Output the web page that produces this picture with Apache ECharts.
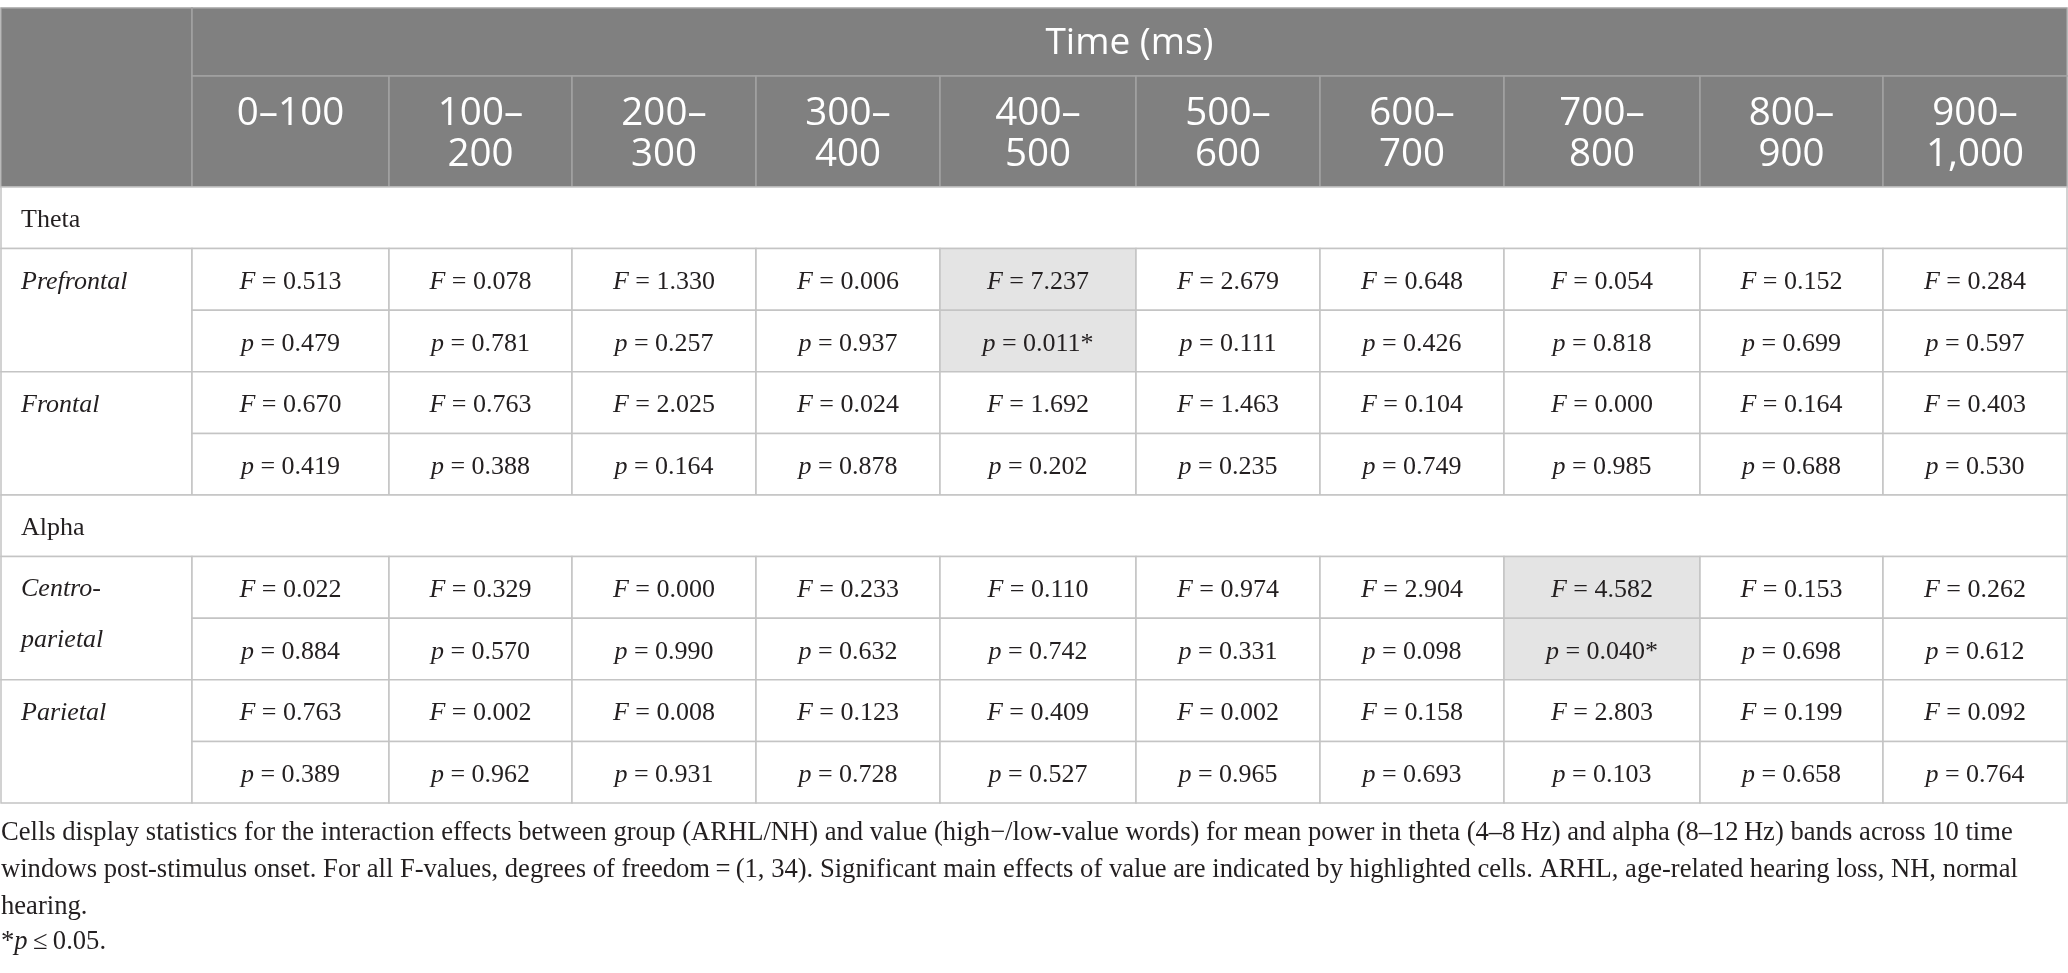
<!DOCTYPE html>
<html>
<head>
<meta charset="utf-8">
<title>Interaction effects table</title>
<script src="https://cdn.jsdelivr.net/npm/echarts@6/dist/echarts.min.js"></script>
<style>
    html, body { margin: 0; padding: 0; background: #ffffff; }
    #main { width: 2068px; height: 973px; }
</style>
</head>
<body>
<div id="main"></div>
<script>
// 表格数据
var timeLabels = ['0–100', '100–\n200', '200–\n300', '300–\n400', '400–\n500',
    '500–\n600', '600–\n700', '700–\n800', '800–\n900', '900–\n1,000'];
var bands = ['Theta', 'Alpha'];
var regions = ['Prefrontal', 'Frontal', 'Centro-\nparietal', 'Parietal'];
var regionBand = [0, 0, 1, 1];

var prefrontalF = [0.513, 0.078, 1.330, 0.006, 7.237, 2.679, 0.648, 0.054, 0.152, 0.284];
var prefrontalP = [0.479, 0.781, 0.257, 0.937, 0.011, 0.111, 0.426, 0.818, 0.699, 0.597];
var frontalF = [0.670, 0.763, 2.025, 0.024, 1.692, 1.463, 0.104, 0.000, 0.164, 0.403];
var frontalP = [0.419, 0.388, 0.164, 0.878, 0.202, 0.235, 0.749, 0.985, 0.688, 0.530];
var centroF = [0.022, 0.329, 0.000, 0.233, 0.110, 0.974, 2.904, 4.582, 0.153, 0.262];
var centroP = [0.884, 0.570, 0.990, 0.632, 0.742, 0.331, 0.098, 0.040, 0.698, 0.612];
var parietalF = [0.763, 0.002, 0.008, 0.123, 0.409, 0.002, 0.158, 2.803, 0.199, 0.092];
var parietalP = [0.389, 0.962, 0.931, 0.728, 0.527, 0.965, 0.693, 0.103, 0.658, 0.764];

var fValues = [prefrontalF, frontalF, centroF, parietalF];
var pValues = [prefrontalP, frontalP, centroP, parietalP];
var alpha = 0.05;

// 版面：列宽、行高（表格单位）
var colWidths = [191, 197, 183, 184, 184, 196, 184, 184, 196, 183, 184];
var rowHeights = [68, 111, 61.6, 61.6, 61.6, 61.6, 61.6, 61.6, 61.6, 61.6, 61.6, 61.6];

var serif = '"Liberation Serif", "DejaVu Serif", serif';
var sans = '"Open Sans", "Noto Sans", sans-serif';
var ink = '#231f20';

function edges(sizes) {
    var out = [0];
    sizes.forEach(function (s) { out.push(out[out.length - 1] + s); });
    return out;
}
var colEdges = edges(colWidths);
var rowEdges = edges(rowHeights);

// 生成单元格
var cells = [];
cells.push({ c: 0, r: 0, cs: 1, rs: 2, kind: 'head', text: '' });
cells.push({ c: 1, r: 0, cs: 10, rs: 1, kind: 'head', text: 'Time (ms)' });
timeLabels.forEach(function (t, i) {
    cells.push({ c: i + 1, r: 1, cs: 1, rs: 1, kind: 'headLabel', text: t });
});
var row = 2;
bands.forEach(function (band, b) {
    cells.push({ c: 0, r: row, cs: 11, rs: 1, kind: 'band', text: band });
    row++;
    regions.forEach(function (name, k) {
        if (regionBand[k] !== b) return;
        cells.push({ c: 0, r: row, cs: 1, rs: 2, kind: 'region', text: name });
        for (var i = 0; i < 10; i++) {
            var sig = pValues[k][i] <= alpha;
            cells.push({ c: i + 1, r: row, cs: 1, rs: 1, kind: 'stat', sig: sig,
                text: '{it|F}{n| = ' + fValues[k][i].toFixed(3) + '}' });
            cells.push({ c: i + 1, r: row + 1, cs: 1, rs: 1, kind: 'stat', sig: sig,
                text: '{it|p}{n| = ' + pValues[k][i].toFixed(3) + (sig ? '*' : '') + '}' });
        }
        row += 2;
    });
});

var statRich = {
    it: { fontFamily: serif, fontStyle: 'italic', fontSize: 26, fill: ink },
    n: { fontFamily: serif, fontSize: 26, fill: ink }
};

function renderItem(params, api) {
    var cell = cells[params.dataIndex];
    var c = api.value(0), r = api.value(1);
    var p0 = api.coord([colEdges[c], rowEdges[r]]);
    var p1 = api.coord([colEdges[c + cell.cs], rowEdges[r + cell.rs]]);
    var x = p0[0], y = p0[1], w = p1[0] - p0[0], h = p1[1] - p0[1];
    var head = cell.kind === 'head' || cell.kind === 'headLabel';
    var children = [{
        type: 'rect',
        shape: { x: x, y: y, width: w, height: h },
        style: {
            fill: head ? '#808080' : (cell.sig ? '#e4e4e4' : '#ffffff'),
            stroke: head ? '#a2a2a2' : '#c4c4c4',
            lineWidth: 1.5
        }
    }];
    var rowH = api.size([0, rowHeights[2]])[1];
    var ts;
    if (cell.kind === 'head') {
        ts = { x: x + w / 2, y: y + h / 2 + 1, align: 'center', verticalAlign: 'middle',
            fill: '#ffffff', fontFamily: sans, fontSize: 37 };
    } else if (cell.kind === 'headLabel') {
        ts = { x: x + w / 2, y: y + 18, align: 'center', verticalAlign: 'top',
            lineHeight: 41, fill: '#ffffff', fontFamily: sans, fontSize: 38.5 };
    } else if (cell.kind === 'band') {
        ts = { x: x + 20, y: y + h / 2 + 2, align: 'left', verticalAlign: 'middle',
            fill: ink, fontFamily: serif, fontSize: 26 };
    } else if (cell.kind === 'region') {
        var lines = cell.text.split('\n').length;
        ts = { x: x + 20, y: lines > 1 ? y + rowH / 2 - 25.5 + 2 : y + rowH / 2 + 3,
            align: 'left', verticalAlign: lines > 1 ? 'top' : 'middle', lineHeight: 51,
            fill: ink, fontFamily: serif, fontStyle: 'italic', fontSize: 26 };
    } else {
        ts = { x: x + w / 2, y: y + h / 2 + 3, align: 'center', verticalAlign: 'middle',
            rich: statRich };
    }
    if (cell.text) {
        ts.text = cell.text;
        children.push({ type: 'text', style: ts });
    }
    return { type: 'group', children: children };
}

var myChart = echarts.init(document.getElementById('main'));

var noteLines = [
    'Cells display statistics for the interaction effects between group (ARHL/NH) and value (high\u2212/low-value words) for mean power in theta (4\u20138\u2009Hz) and alpha (8\u201312\u2009Hz) bands across 10 time',
    'windows post-stimulus onset. For all F-values, degrees of freedom\u2009=\u2009(1, 34). Significant main effects of value are indicated by highlighted cells. ARHL, age-related hearing loss, NH, normal',
    'hearing.',
    '{n|*}{it|p}{n|\u2009\u2264\u20090.05.}'
];
var noteY = [833, 870, 907, 942];
var noteSize = 26.6;

var option = {
    backgroundColor: '#ffffff',
    animation: false,
    grid: { left: 1, right: 1, top: 8, bottom: 170 },
    xAxis: { type: 'value', min: 0, max: colEdges[colEdges.length - 1], show: false },
    yAxis: { type: 'value', min: 0, max: rowEdges[rowEdges.length - 1], inverse: true, show: false },
    graphic: noteLines.map(function (t, i) {
        return {
            type: 'text',
            x: 1,
            y: noteY[i],
            style: {
                text: t,
                fill: ink,
                fontFamily: serif,
                fontSize: noteSize,
                verticalAlign: 'middle',
                rich: {
                    n: { fontFamily: serif, fontSize: noteSize, fill: ink },
                    it: { fontFamily: serif, fontStyle: 'italic', fontSize: noteSize, fill: ink }
                }
            }
        };
    }),
    series: [{
        type: 'custom',
        renderItem: renderItem,
        clip: false,
        silent: true,
        data: cells.map(function (cell) { return [cell.c, cell.r]; })
    }]
};
myChart.setOption(option);
</script>
</body>
</html>
